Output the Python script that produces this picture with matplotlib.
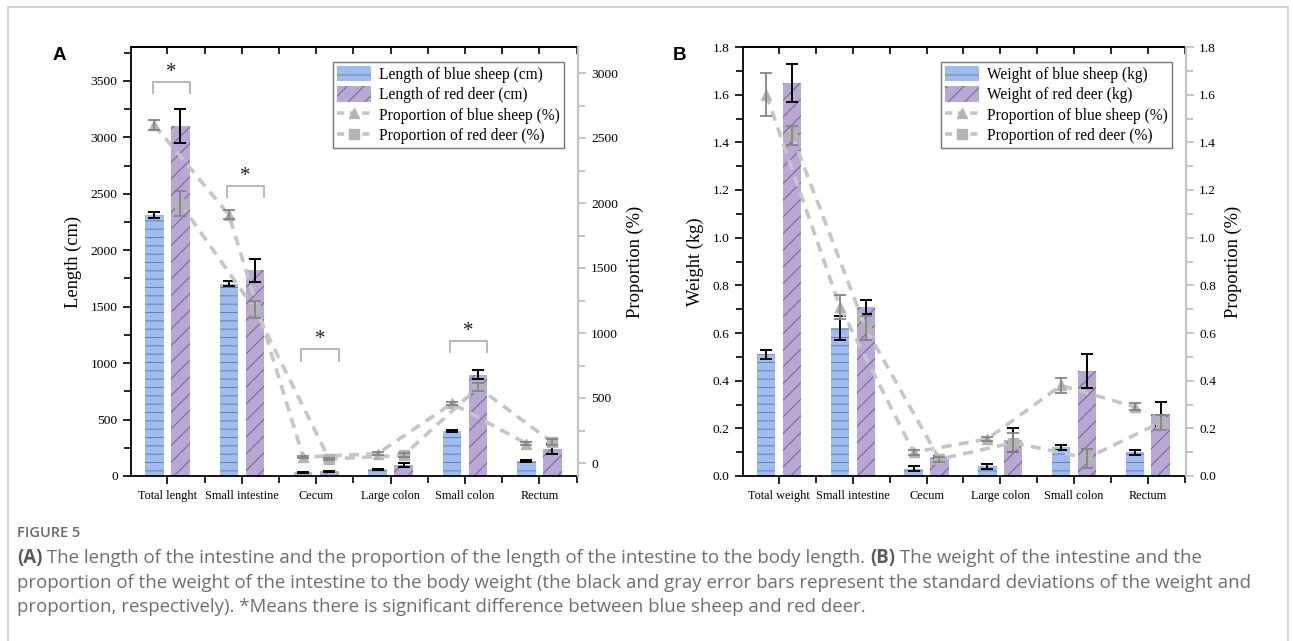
import matplotlib
matplotlib.use("Agg")
import matplotlib.pyplot as plt
from matplotlib.patches import Patch, Rectangle
from matplotlib.lines import Line2D
from matplotlib.ticker import MultipleLocator, FixedLocator, FormatStrFormatter
import numpy as np

# ---------------- data ----------------
cats_A = ["Total lenght", "Small intestine", "Cecum", "Large colon", "Small colon", "Rectum"]
cats_B = ["Total weight", "Small intestine", "Cecum", "Large colon", "Small colon", "Rectum"]

len_blue = [2310, 1705, 32, 60, 398, 132]
len_blue_sd = [28, 25, 5, 5, 12, 8]
len_red = [3100, 1822, 42, 97, 895, 237]
len_red_sd = [150, 100, 5, 15, 40, 45]
propA_blue = [2600, 1910, 45, 72, 458, 150]
propA_blue_sd = [38, 35, 10, 10, 15, 15]
propA_red = [1995, 1182, 30, 60, 582, 160]
propA_red_sd = [95, 64, 10, 15, 30, 25]

wt_blue = [0.51, 0.62, 0.03, 0.04, 0.12, 0.10]
wt_blue_sd = [0.02, 0.05, 0.01, 0.01, 0.01, 0.01]
wt_red = [1.65, 0.71, 0.08, 0.15, 0.44, 0.26]
wt_red_sd = [0.08, 0.03, 0.005, 0.05, 0.07, 0.05]
propB_blue = [1.60, 0.71, 0.10, 0.155, 0.38, 0.29]
propB_blue_sd = [0.09, 0.05, 0.01, 0.01, 0.03, 0.015]
propB_red = [1.43, 0.62, 0.07, 0.14, 0.075, 0.225]
propB_red_sd = [0.04, 0.05, 0.01, 0.04, 0.04, 0.03]

# significance brackets (group index, top, leg bottom) in left-axis units
sig_A = [(0, 3490, 3390), (1, 2570, 2470), (2, 1125, 1020), (4, 1198, 1095)]

legend_A = ["Length of blue sheep (cm)", "Length of red deer (cm)",
            "Proportion of blue sheep (%)", "Proportion of red deer (%)"]
legend_B = ["Weight of blue sheep (kg)", "Weight of red deer (kg)",
            "Proportion of blue sheep (%)", "Proportion of red deer (%)"]

caption_title = "FIGURE 5"
cap1 = ["(A)", " The length of the intestine and the proportion of the length of the intestine to the body length. ",
        "(B)", " The weight of the intestine and the"]
cap2 = "proportion of the weight of the intestine to the body weight (the black and gray error bars represent the standard deviations of the weight and"
cap3 = "proportion, respectively). *Means there is significant difference between blue sheep and red deer."

# ---------------- style ----------------
BLUE = "#9dbdf2"
BLUE_H = "#6f7d9c"
PURP = "#b9a8d6"
PURP_H = "#6e6488"
LINEC = "#c6c6c6"
MKC = "#b4b4b4"
ERRG = "#858585"
SERIF = "Liberation Serif"

plt.rcParams["hatch.linewidth"] = 0.7
plt.rcParams["font.family"] = SERIF

W, H = 1293, 641
fig = plt.figure(figsize=(W / 100, H / 100), dpi=100)


def draw_panel(rect, cats, blue, blue_sd, red, red_sd, pb, pb_sd, pr, pr_sd,
               ylim, ylim2, major, minor, fmt, ylabel, labels, sigs, star_off):
    ax = fig.add_axes(rect)
    x = np.arange(len(cats))
    off, w = 0.175, 0.25
    ekw = dict(ecolor="black", elinewidth=1.4, capsize=4, capthick=1.4, zorder=3)
    ax.bar(x - off, blue, w, color=BLUE, edgecolor=BLUE_H, hatch="--", linewidth=0,
           yerr=blue_sd, error_kw=ekw, zorder=2)
    ax.bar(x + off, red, w, color=PURP, edgecolor=PURP_H, hatch="//", linewidth=0,
           yerr=red_sd, error_kw=ekw, zorder=2)
    ax.set_xlim(-0.49, 5.52)
    ax.set_ylim(*ylim)
    ax.set_xticks(x)
    ax.set_xticklabels(cats, fontsize=8.8)
    ax.xaxis.set_minor_locator(FixedLocator(x + 0.5))
    ax.tick_params(axis="x", which="major", direction="out", length=6, width=1.2, pad=4)
    ax.tick_params(axis="x", which="minor", direction="out", length=5, width=1.2)
    ax.yaxis.set_major_locator(MultipleLocator(major))
    ax.yaxis.set_minor_locator(MultipleLocator(minor))
    ax.yaxis.set_major_formatter(FormatStrFormatter(fmt))
    ax.tick_params(axis="y", which="major", direction="out", length=6, width=1.2, labelsize=9.7)
    ax.tick_params(axis="y", which="minor", direction="out", length=5, width=1.2)
    for s in ["left", "bottom", "top"]:
        ax.spines[s].set_linewidth(1.3)
    ax.spines["right"].set_visible(False)
    ax.set_ylabel(ylabel, fontsize=13.3, labelpad=6)

    sec = ax.secondary_xaxis("top")
    sec.set_xticks(np.arange(0, 6, 0.5))
    sec.tick_params(direction="in", length=5, width=1.2, labeltop=False)
    sec.spines["top"].set_linewidth(1.3)

    for i, hi_, lo_ in sigs:
        ax.plot([i - 0.2, i - 0.2, i + 0.3, i + 0.3], [lo_, hi_, hi_, lo_],
                color="#b8b8b8", lw=1.4, zorder=4)
        ax.text(i + 0.05, hi_ + star_off, "*", ha="center", va="center",
                fontsize=15, color="#222222", zorder=4)

    ax2 = ax.twinx()
    ax2.set_ylim(*ylim2[:2])
    ax2.yaxis.set_major_locator(MultipleLocator(ylim2[2]))
    ax2.yaxis.set_minor_locator(MultipleLocator(ylim2[3]))
    ax2.yaxis.set_major_formatter(FormatStrFormatter(fmt))
    ax2.tick_params(axis="y", which="both", direction="out", width=1.2, color="#bdbdbd",
                    labelsize=9.7, labelcolor="black")
    ax2.tick_params(axis="y", which="major", length=6)
    ax2.tick_params(axis="y", which="minor", length=5)
    for s in ["left", "bottom", "top"]:
        ax2.spines[s].set_visible(False)
    ax2.spines["right"].set_color("#c4c4c4")
    ax2.spines["right"].set_linewidth(1.6)
    ax2.set_ylabel("Proportion (%)", fontsize=13.3, labelpad=6)

    for xs, vals, sd, mk in [(x - off, pb, pb_sd, "^"), (x + off, pr, pr_sd, "s")]:
        ax2.errorbar(xs, vals, yerr=sd, fmt="none", ecolor=ERRG, elinewidth=1.3,
                     capsize=4, capthick=1.3, zorder=3)
        ax2.plot(xs, vals, color=LINEC, lw=2.6, dashes=(2.8, 2.0), marker=mk,
                 ms=6.5 if mk == "s" else 7.5, mfc=MKC, mec=MKC, zorder=2)

    handles = [
        Patch(facecolor=BLUE, edgecolor=BLUE_H, hatch="-", linewidth=0),
        Patch(facecolor=PURP, edgecolor=PURP_H, hatch="//", linewidth=0),
        Line2D([], [], color=LINEC, lw=2.6, dashes=(2.0, 1.5), marker="^", ms=7.5, mfc=MKC, mec=MKC),
        Line2D([], [], color=LINEC, lw=2.6, dashes=(2.0, 1.5), marker="s", ms=6.5, mfc=MKC, mec=MKC),
    ]
    leg = ax2.legend(handles, labels, loc="upper right", bbox_to_anchor=(0.968, 0.965),
                     fontsize=11.2, frameon=True, fancybox=False, edgecolor="#555555",
                     handlelength=2.2, handleheight=1.15, labelspacing=0.22, borderpad=0.25,
                     handletextpad=0.5, borderaxespad=0.0)
    leg.get_frame().set_linewidth(1.0)
    return ax, ax2


axA, axA2 = draw_panel([131 / W, 1 - 476 / H, 447 / W, 429 / H], cats_A,
                       len_blue, len_blue_sd, len_red, len_red_sd,
                       propA_blue, propA_blue_sd, propA_red, propA_red_sd,
                       (0, 3800), (-100, 3200, 500, 250), 500, 250, "%d",
                       "Length (cm)", legend_A, sig_A, 80)
axB, axB2 = draw_panel([743 / W, 1 - 476 / H, 443 / W, 429 / H], cats_B,
                       wt_blue, wt_blue_sd, wt_red, wt_red_sd,
                       propB_blue, propB_blue_sd, propB_red, propB_red_sd,
                       (0, 1.8), (0, 1.8, 0.2, 0.1), 0.2, 0.1, "%.1f",
                       "Weight (kg)", legend_B, [], 0)

fig.text(53 / W, 1 - 60 / H, "A", fontsize=13.5, fontweight="bold", family="Liberation Sans")
fig.text(673 / W, 1 - 60 / H, "B", fontsize=13.5, fontweight="bold", family="Liberation Sans")

# border
fig.add_artist(Rectangle((8 / W, -0.1), (1288 - 8) / W, 0.1 + 1 - 7 / H,
                         transform=fig.transFigure, fill=False, edgecolor="#d4d4d4", lw=1.5))

# caption
CAPF = "Open Sans"
CAPC = "#6e6e6e"
CAPS = 13.4
fig.text(17 / W, 1 - 537 / H, caption_title, fontsize=10.5, family=CAPF, color="#6a6a6a",
         fontweight="semibold", va="baseline")

segs = []
for seg in cap1:
    bold = seg.startswith("(")
    segs.append(fig.text(17 / W, 1 - 563 / H, seg, fontsize=CAPS, family=CAPF,
                         color="#5a5a5a" if bold else CAPC,
                         fontweight="bold" if bold else "normal", va="baseline"))
fig.canvas.draw()
r = fig.canvas.get_renderer()
x0 = 17
for t in segs:
    t.set_position((x0 / W, 1 - 563 / H))
    x0 = x0 + t.get_window_extent(renderer=r).width
fig.text(17 / W, 1 - 587.5 / H, cap2, fontsize=CAPS, family=CAPF, color=CAPC, va="baseline")
fig.text(17 / W, 1 - 612 / H, cap3, fontsize=CAPS, family=CAPF, color=CAPC, va="baseline")

fig.savefig("out.png", dpi=100)
